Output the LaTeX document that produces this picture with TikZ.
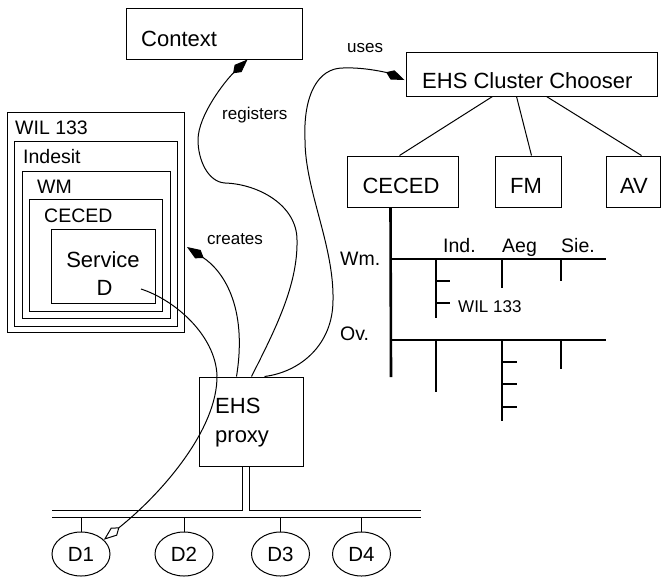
\documentclass[tikz,border=0pt]{standalone}
\usepackage{fontspec}
\setmainfont{Liberation Sans}
\usetikzlibrary{arrows.meta,shapes.geometric}
\newcommand\fsBig{\fontsize{22}{26}\selectfont}
\newcommand\fsMid{\fontsize{19.5}{23}\selectfont}
\newcommand\fsSmall{\fontsize{17}{20}\selectfont}
\newcommand\fsDev{\fontsize{20.5}{24}\selectfont}
\begin{document}
\begin{tikzpicture}[x=1pt,y=-1pt,
  box/.style={draw, line width=1pt, rectangle, inner sep=0pt},
  nbox/.style={draw, line width=0.9pt, rectangle, inner sep=0pt},
  lbl/.style={inner sep=0pt, anchor=base west},
  clbl/.style={inner sep=0pt, anchor=base},
  curve/.style={line width=1pt},
  kitetip/.style={-{Kite[length=20pt,width=10pt,inset=7pt]}},
  okitetip/.style={-{Kite[open,length=20pt,width=10pt,inset=7pt]}},
  thickln/.style={line width=2.6pt},
  thinln/.style={line width=1.2pt},
  dev/.style={draw, ellipse, line width=1pt, minimum width=58pt, minimum height=44pt, inner sep=0pt}]
\useasboundingbox (0,0) rectangle (668,581);

% top boxes
\node[box, minimum width=176pt, minimum height=51pt] (context) at (214,33.5) {};
\node[lbl] (tcontext) at (141,46) {\fsBig Context};
\node[box, minimum width=251pt, minimum height=44pt] (chooser) at (531.5,74) {};
\node[lbl] (tchooser) at (422,88) {\fsBig EHS Cluster Chooser};
\node[box, minimum width=111pt, minimum height=51pt] (ceced) at (402.5,181.5) {};
\node[clbl] (tceced) at (401,193) {\fsBig CECED};
\node[box, minimum width=66pt, minimum height=51pt] (fm) at (528,181.5) {};
\node[clbl] (tfm) at (526,193) {\fsBig FM};
\node[box, minimum width=54pt, minimum height=51pt] (av) at (633,181.5) {};
\node[clbl] (tav) at (634,193) {\fsBig AV};

\draw[line width=1pt] ([xshift=87pt]chooser.south west) -- ([xshift=53pt]ceced.north west);
\draw[line width=1pt] ([xshift=111pt]chooser.south west) -- ([xshift=37pt]fm.north west);
\draw[line width=1pt] ([xshift=141pt]chooser.south west) -- ([xshift=36pt]av.north west);

% tree
\coordinate (treeend) at (391,377);
\coordinate (wmL) at (391,259);
\coordinate (wmR) at (606,259);
\coordinate (ovL) at (391,340);
\coordinate (ovR) at (606,340);
\draw[thickln] ([xshift=44pt]ceced.south west) -- (treeend);
\draw[thickln] (wmL) -- (wmR);
\draw[thickln] (ovL) -- (ovR);
\draw[thinln] (436,259) -- (436,318);
\draw[thinln] (436,281) -- (450,281);
\draw[thinln] (436,303) -- (450,303);
\draw[thinln] (502,259) -- (502,288);
\draw[thinln] (561,259) -- (561,281);
\draw[thinln] (436,340) -- (436,392);
\draw[thinln] (502,340) -- (502,421);
\draw[thinln] (502,362) -- (517,362);
\draw[thinln] (502,384) -- (517,384);
\draw[thinln] (502,407) -- (517,407);
\draw[thinln] (561,340) -- (561,369);
\node[lbl] (twm) at (340,265) {\fsMid Wm.};
\node[lbl] (tov) at (340,340) {\fsMid Ov.};
\node[lbl] (tind) at (443,252) {\fsMid Ind.};
\node[lbl] (taeg) at (502,252) {\fsMid Aeg};
\node[lbl] (tsie) at (561,252) {\fsMid Sie.};
\node[lbl] (twil) at (458,312) {\fsSmall WIL 133};

% nested boxes
\node[nbox, minimum width=177pt, minimum height=220pt] (wil) at (95.5,222) {};
\node[nbox, minimum width=163pt, minimum height=185pt] (indesit) at (95.5,233.5) {};
\node[nbox, minimum width=148pt, minimum height=147pt] (wm) at (96,244.5) {};
\node[nbox, minimum width=133pt, minimum height=112pt] (cecedn) at (95.5,255) {};
\node[nbox, minimum width=104pt, minimum height=74pt] (service) at (103,266) {};
\node[lbl] (twiln) at (15,134) {\fsMid WIL 133};
\node[lbl] (tindesit) at (23,163) {\fsMid Indesit};
\node[lbl] (twmn) at (37,193) {\fsMid WM};
\node[lbl] (tcecedn) at (44,222) {\fsMid CECED};
\node[clbl] (tservice) at (103,267) {\fsBig Service};
\node[clbl] (tserviced) at (104.5,295) {\fsBig D};

% proxy
\node[box, minimum width=104pt, minimum height=89pt] (proxy) at (251,421.5) {};
\node[lbl] (tehs) at (215,413) {\fsBig EHS};
\node[lbl] (tproxy) at (215,442) {\fsBig proxy};

% bus
\coordinate (busL1) at (52,510);
\coordinate (busR1) at (421,510);
\coordinate (busL2) at (52,517);
\coordinate (busR2) at (421,517);
\draw[line width=1pt] ([xshift=44pt]proxy.south west) |- (busL1);
\draw[line width=1pt] ([xshift=51pt]proxy.south west) |- (busR1);
\draw[line width=1pt] (busL2) -- (busR2);
\node[dev] (d1) at (81,554) {\fsDev D1};
\node[dev] (d2) at (184,554) {\fsDev D2};
\node[dev] (d3) at (280.5,554) {\fsDev D3};
\node[dev] (d4) at (361.5,554) {\fsDev D4};
\foreach \d in {d1,d2,d3,d4}{
  \draw[line width=1pt] (\d.north) -- (\d.north |- busL2);
}

% curves
\coordinate (createtip) at (187,247);
\draw[curve,kitetip] ([xshift=38pt]proxy.north west) .. controls (248,305) and (222,270) .. (createtip);
\draw[curve,kitetip] ([xshift=53pt]proxy.north west) .. controls (275,330) and (298,285) .. (297,240)
  .. controls (297,205) and (258,184) .. (225,183)
  .. controls (208,182) and (198,160) .. (198,140)
  .. controls (198,115) and (226,80) .. ([xshift=122pt]context.south west);
\draw[curve,kitetip] ([xshift=66pt]proxy.north west) .. controls (300,372) and (333,345) .. (333,300)
  .. controls (334,245) and (305,190) .. (305,140)
  .. controls (303,95) and (318,68) .. (343,68)
  .. controls (365,67) and (388,73) .. ([yshift=-6pt,xshift=-1pt]chooser.west);
\draw[curve,okitetip] ([xshift=38pt,yshift=-23pt]service.center) .. controls (175,300) and (215,335) .. (217,375)
  .. controls (218,430) and (160,495) .. (d1.32);

\node[lbl] (tuses) at (347,52) {\fsSmall uses};
\node[lbl] (tregisters) at (222,119) {\fsSmall registers};
\node[lbl] (tcreates) at (207,244) {\fsSmall creates};
\end{tikzpicture}
\end{document}
